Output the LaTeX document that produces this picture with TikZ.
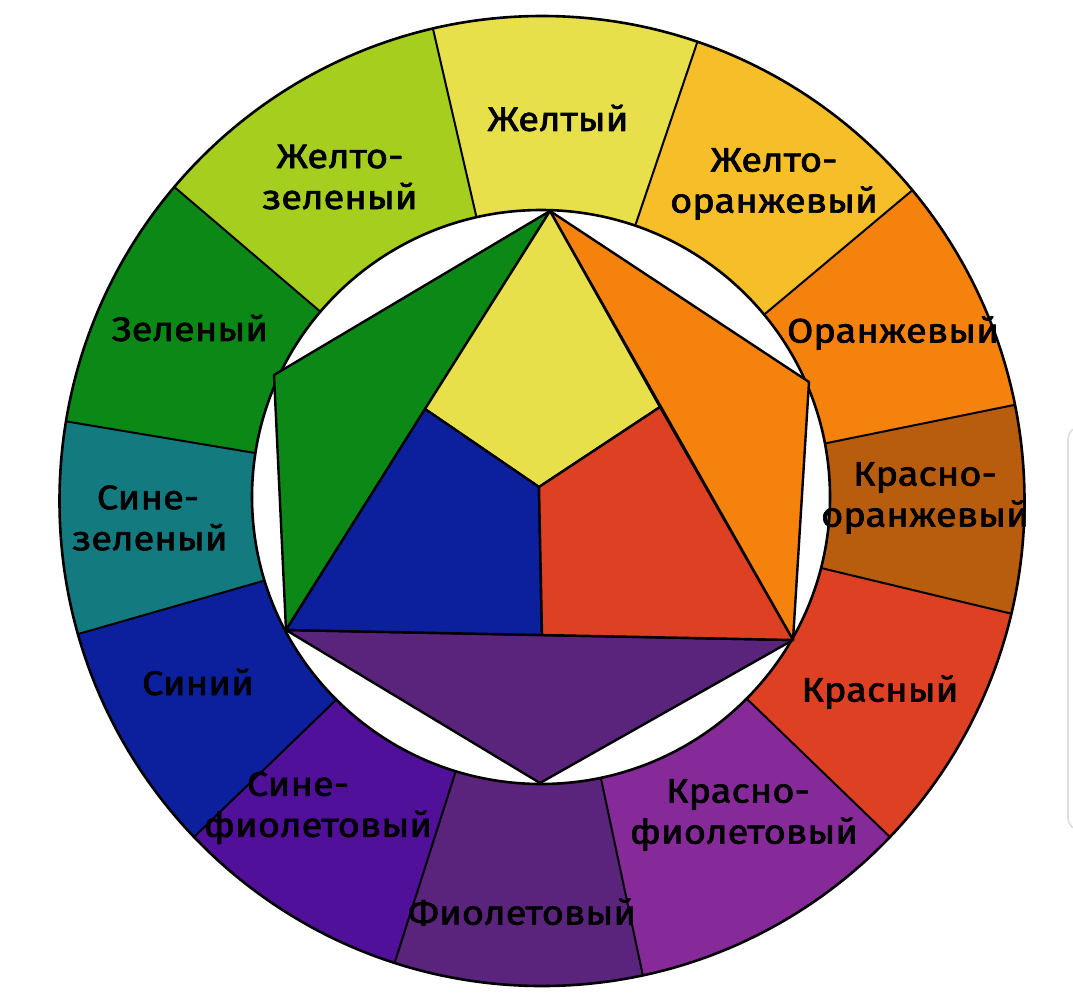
\documentclass[tikz,border=0pt]{standalone}
\usepackage{fontspec}
\setmainfont{Fira Sans}[FakeStretch=1.12,FakeBold=2]
\definecolor{cY}{HTML}{E8E04A}
\definecolor{cYO}{HTML}{F6BE28}
\definecolor{cO}{HTML}{F6820E}
\definecolor{cRO}{HTML}{B85C0E}
\definecolor{cR}{HTML}{DE4024}
\definecolor{cRV}{HTML}{862A9A}
\definecolor{cV}{HTML}{5A247C}
\definecolor{cBV}{HTML}{50109A}
\definecolor{cB}{HTML}{0C209E}
\definecolor{cBG}{HTML}{137A80}
\definecolor{cG}{HTML}{0C8816}
\definecolor{cYG}{HTML}{A6CE1E}
\begin{document}
\begin{tikzpicture}[x=1pt,y=1pt,line join=round]
\tikzset{
  ring/.style={draw=black,line width=2.6pt},
  seg/.style={draw=black,line width=2pt},
  fig/.style={draw=black,line width=2.4pt},
  lbl/.style={font=\fontsize{34}{41}\selectfont,align=center,inner sep=0pt,text=black}
}
\useasboundingbox (0,0) rectangle (1073,-1005);
\coordinate (O) at (542,-501);
\coordinate (Oi) at (541,-497);
% scroll handle at the right edge
\begin{scope}
\clip (0,0) rectangle (1073,-1005);
\draw[black!13,line width=1.6pt,rounded corners=12pt] (1068,-427) rectangle (1110,-830);
\end{scope}
% ring sectors
\begin{scope}
\clip (O) ellipse [x radius=482.5, y radius=485];
\fill[cY]  (O) -- +(103:800)   -- +(71.3:800)  -- cycle;
\fill[cYO] (O) -- +(71.3:800)  -- +(40:800)    -- cycle;
\fill[cO]  (O) -- +(40:800)    -- +(11.5:800)  -- cycle;
\fill[cRO] (O) -- +(11.5:800)  -- +(-13.5:800) -- cycle;
\fill[cR]  (O) -- +(-13.5:800) -- +(-44:800)   -- cycle;
\fill[cRV] (O) -- +(-44:800)   -- +(-78:800)   -- cycle;
\fill[cV]  (O) -- +(-78:800)   -- +(-107.7:800) -- cycle;
\fill[cBV] (O) -- +(-107.7:800) -- +(-136:800) -- cycle;
\fill[cB]  (O) -- +(-136:800)  -- +(-164:800)  -- cycle;
\fill[cBG] (O) -- +(-164:800)  -- +(-189.5:800) -- cycle;
\fill[cG]  (O) -- +(-189.5:800) -- +(-220.5:800) -- cycle;
\fill[cYG] (O) -- +(-220.5:800) -- +(-257:800) -- cycle;
\foreach \a in {103,71.3,40,11.5,-13.5,-44,-78,-107.7,-136,-164,-189.5,-220.5}
  \draw[seg] (O) -- +(\a:800);
\end{scope}
\fill[white] (Oi) ellipse [x radius=289, y radius=287];
\draw[ring] (O) ellipse [x radius=482.5, y radius=485];
\draw[ring] (Oi) ellipse [x radius=289, y radius=287];
% inner figure
\coordinate (T) at (550,-211);
\coordinate (L) at (274,-375);
\coordinate (R) at (809,-382);
\coordinate (BL) at (286,-630);
\coordinate (BR) at (793,-640);
\coordinate (Bo) at (540,-783);
\coordinate (M) at (539,-487);
\coordinate (ML) at (425,-409);
\coordinate (MR) at (660,-407);
\coordinate (MB) at (542,-635);
\filldraw[fig,fill=cG] (T) -- (L) -- (BL) -- cycle;
\filldraw[fig,fill=cO] (T) -- (R) -- (BR) -- cycle;
\filldraw[fig,fill=cV] (BL) -- (Bo) -- (BR) -- cycle;
\filldraw[fig,fill=cY] (T) -- (MR) -- (M) -- (ML) -- cycle;
\filldraw[fig,fill=cB] (ML) -- (M) -- (MB) -- (BL) -- cycle;
\filldraw[fig,fill=cR] (MR) -- (BR) -- (MB) -- (M) -- cycle;
% labels
\node[lbl] (tY)  at (558,-118) {Желтый};
\node[lbl] (tYG) at (340,-177) {Желто-\\зеленый};
\node[lbl] (tYO) at (774,-184) {Желто-\\оранжевый};
\node[lbl] (tG)  at (190,-328) {Зеленый};
\node[lbl] (tO)  at (893,-333) {Оранжевый};
\node[lbl] (tRO) at (925,-498) {Красно-\\оранжевый};
\node[lbl] (tBG) at (148,-518) {Сине-\\\hspace*{4pt}зеленый};
\node[lbl] (tB)  at (198,-682) {Синий};
\node[lbl] (tR)  at (880,-692) {Красный};
\node[lbl] (tBV) at (318,-808) {\hspace*{-40pt}Сине-\\фиолетовый};
\node[lbl] (tRV) at (744,-815) {\hspace*{-12pt}Красно-\\фиолетовый};
\node[lbl] (tV)  at (522,-912) {Фиолетовый};
\end{tikzpicture}
\end{document}
